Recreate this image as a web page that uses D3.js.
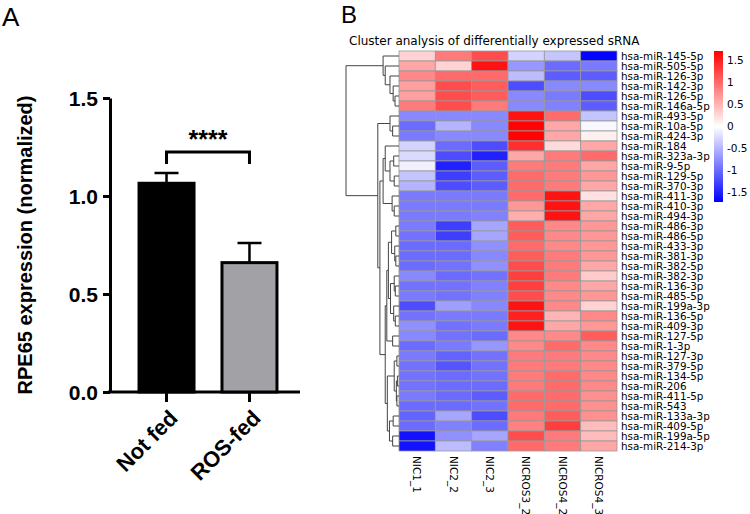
<!DOCTYPE html>
<html>
<head>
  <meta charset="UTF-8">
  <title>RPE65 and sRNA cluster</title>
<style>
  body { margin: 0; background: #fff; }
  svg { display: block; }
</style>
</head>
<body>
<svg></svg>
<script src="https://d3js.org/d3.v7.min.js"></script>
<script>
    let width = 750, height = 514;

    // Panel A data
    const barGroups = ["Not fed", "ROS-fed"];
    const barMeans = [1.065, 0.66];
    const barErrors = [0.052, 0.10];
    const barFills = ["#000000", "#a1a1a6"];
    const yTicks = [0, 0.5, 1.0, 1.5];

    // Panel B data
    const samples = ["NIC1_1", "NIC2_2", "NIC2_3", "NICROS3_2", "NICROS4_2", "NICROS4_3"];
    const mirnas = ["hsa-miR-145-5p", "hsa-miR-505-5p", "hsa-miR-126-3p", "hsa-miR-142-3p", "hsa-miR-126-5p",
        "hsa-miR-146a-5p", "hsa-miR-493-5p", "hsa-miR-10a-5p", "hsa-miR-424-3p", "hsa-miR-184",
        "hsa-miR-323a-3p", "hsa-miR-9-5p", "hsa-miR-129-5p", "hsa-miR-370-3p", "hsa-miR-411-3p",
        "hsa-miR-410-3p", "hsa-miR-494-3p", "hsa-miR-486-3p", "hsa-miR-486-5p", "hsa-miR-433-3p",
        "hsa-miR-381-3p", "hsa-miR-382-5p", "hsa-miR-382-3p", "hsa-miR-136-3p", "hsa-miR-485-5p",
        "hsa-miR-199a-3p", "hsa-miR-136-5p", "hsa-miR-409-3p", "hsa-miR-127-5p", "hsa-miR-1-3p",
        "hsa-miR-127-3p", "hsa-miR-379-5p", "hsa-miR-134-5p", "hsa-miR-206", "hsa-miR-411-5p",
        "hsa-miR-543", "hsa-miR-133a-3p", "hsa-miR-409-5p", "hsa-miR-199a-5p", "hsa-miR-214-3p"];
    const zscores = [
        [0.3, 0.9, 1.2, -0.3, -0.4, -1.7],
        [0.6, 0.3, 1.6, -0.7, -1.0, -0.9],
        [0.8, 1.0, 1.0, -0.45, -1.1, -1.1],
        [0.65, 1.2, 1.1, -1.2, -0.8, -0.8],
        [0.65, 1.2, 1.1, -0.8, -0.9, -1.2],
        [0.9, 1.2, 0.9, -0.8, -0.85, -1.1],
        [-0.8, -0.8, -0.8, 1.6, 1.0, -0.4],
        [-1.0, -0.5, -0.8, 1.7, 0.6, -0.05],
        [-0.9, -0.8, -0.8, 1.7, 0.6, 0.1],
        [-0.3, -1.0, -1.2, 1.4, 0.25, 0.6],
        [-0.25, -1.2, -1.5, 0.6, 0.9, 1.0],
        [-0.1, -1.5, -1.1, 0.9, 0.9, 0.6],
        [-0.4, -1.3, -1.1, 1.0, 0.9, 0.7],
        [-0.5, -1.2, -1.1, 1.0, 0.9, 0.6],
        [-0.9, -0.9, -0.9, 1.0, 1.6, 0.2],
        [-0.9, -0.9, -0.9, 0.7, 1.6, 0.6],
        [-0.9, -0.9, -0.85, 0.55, 1.6, 0.6],
        [-0.9, -1.3, -0.6, 1.1, 0.8, 0.7],
        [-0.95, -1.3, -0.6, 1.1, 0.8, 0.7],
        [-1.0, -1.0, -0.75, 1.0, 0.8, 0.7],
        [-1.0, -1.0, -0.8, 1.1, 0.9, 0.7],
        [-1.0, -0.95, -0.75, 1.2, 0.9, 0.6],
        [-0.8, -1.0, -0.95, 1.3, 0.9, 0.35],
        [-0.95, -0.95, -0.85, 1.3, 0.8, 0.6],
        [-0.9, -0.95, -0.85, 1.2, 0.8, 0.7],
        [-1.2, -0.65, -0.8, 1.6, 0.8, 0.3],
        [-0.95, -0.9, -0.9, 1.5, 0.5, 0.8],
        [-0.75, -0.95, -0.9, 1.6, 0.6, 0.7],
        [-0.8, -0.95, -1.0, 0.8, 0.8, 1.1],
        [-1.0, -0.9, -0.7, 0.8, 1.0, 0.8],
        [-0.9, -1.05, -0.95, 0.9, 0.9, 0.8],
        [-0.95, -1.15, -0.95, 0.9, 0.9, 0.8],
        [-0.95, -1.0, -0.95, 0.9, 1.0, 0.8],
        [-0.95, -1.0, -1.0, 0.9, 1.0, 0.8],
        [-0.9, -1.0, -1.1, 1.0, 1.0, 0.75],
        [-1.0, -1.0, -0.95, 1.0, 1.0, 0.75],
        [-1.05, -0.6, -1.2, 0.9, 1.1, 0.75],
        [-1.0, -0.85, -1.0, 0.85, 1.3, 0.45],
        [-1.6, -0.75, -0.6, 1.2, 0.9, 0.45],
        [-1.6, -0.45, -0.85, 1.0, 0.9, 0.6]
    ];
    const colorTicks = [1.5, 1, 0.5, 0, -0.5, -1, -1.5];

    // row dendrogram: [height, left, right], leaves are row indices
    const treeTop = [3.0, 0, [2.6, 1, [1.7, 2, [1.1, 3, [0.75, 4, 5]]]]];
    const treeA = [1.7, 6, [1.2, 7, 8]];
    const treeB = [2.6, 9, [1.7, [1.0, 10, 11], [0.9, 12, 13]]];
    const treeC = [1.3, 14, [0.9, 15, 16]];
    const treeD = [2.3, [2.0, [1.4, [0.6, 17, 18], [0.8, 19, [0.6, 20, 21]]],
        [1.6, [0.9, 22, [0.7, 23, 24]], [1.0, 25, [0.7, 26, 27]]]], [1.2, 28, 29]];
    const treeE = [0.9, [0.4, 30, 31], [0.5, [0.3, 32, 33], [0.4, 34, 35]]];
    const treeF = [1.8, [1.1, 36, 37], [1.2, 38, 39]];
    const rowTree = [10, treeTop, [4.0, treeA, [3.6, [3.0, treeB, treeC], [2.6, treeD, [2.2, treeE, treeF]]]]];

    let svg = d3.select("svg").attr("width", width).attr("height", height);

    // ---------- Panel A ----------
    let fontA = "'Liberation Sans', Arial, sans-serif";
    svg.append("text").attr("x", 2).attr("y", 26)
        .style("font-family", fontA).style("font-size", "26px").text("A");

    let y = d3.scaleLinear().domain([0, 1.5]).range([392, 98]);
    let x = d3.scaleBand().domain(barGroups).range([110, 306]).paddingInner(0.337).paddingOuter(0.35);

    let yAxis = svg.append("g").attr("transform", "translate(110,0)")
        .call(d3.axisLeft(y).tickValues(yTicks).tickFormat(d3.format(".1f")).tickSize(7).tickSizeOuter(0));
    yAxis.select(".domain").attr("stroke-width", 3);
    yAxis.selectAll(".tick line").attr("stroke-width", 3);
    yAxis.selectAll("text").attr("x", -12).attr("dy", "0.36em")
        .style("font-family", fontA).style("font-size", "21px").style("font-weight", "bold").attr("fill", "#000");

    let xAxis = svg.append("g").attr("transform", "translate(0,392)")
        .call(d3.axisBottom(x).tickSize(10).tickSizeOuter(0));
    xAxis.select(".domain").attr("stroke-width", 3).attr("d", "M108,0H300");
    xAxis.selectAll(".tick line").attr("stroke-width", 3);
    xAxis.selectAll("text")
        .attr("text-anchor", "end")
        .attr("transform", "translate(7,22) rotate(-45)")
        .attr("x", 0).attr("y", 0).attr("dy", "0.35em")
        .style("font-family", fontA).style("font-size", "22px").style("font-weight", "bold").attr("fill", "#000");

    let bars = svg.append("g");
    bars.selectAll("rect").data(barGroups).enter().append("rect")
        .attr("x", d => x(d))
        .attr("y", (d, i) => y(barMeans[i]))
        .attr("width", x.bandwidth())
        .attr("height", (d, i) => y(0) - y(barMeans[i]))
        .attr("fill", (d, i) => barFills[i])
        .attr("stroke", "#000").attr("stroke-width", 3);

    // error bars (upper only)
    bars.selectAll("path.err").data(barGroups).enter().append("path")
        .attr("class", "err")
        .attr("d", (d, i) => {
            let cx = x(d) + x.bandwidth() / 2, top = y(barMeans[i] + barErrors[i]);
            return "M" + cx + "," + y(barMeans[i]) + "V" + top + "M" + (cx - 12) + "," + top + "H" + (cx + 12);
        })
        .attr("fill", "none").attr("stroke", "#000").attr("stroke-width", 2.5);

    // significance bracket
    let c1 = x(barGroups[0]) + x.bandwidth() / 2, c2 = x(barGroups[1]) + x.bandwidth() / 2;
    svg.append("path")
        .attr("d", "M" + c1 + ",164V152H" + c2 + "V164")
        .attr("fill", "none").attr("stroke", "#000").attr("stroke-width", 3);
    svg.append("text").attr("x", (c1 + c2) / 2).attr("y", 148)
        .attr("text-anchor", "middle")
        .style("font-family", fontA).style("font-size", "25px").style("font-weight", "bold")
        .text("****");

    svg.append("text")
        .attr("transform", "translate(32,245) rotate(-90)")
        .attr("text-anchor", "middle")
        .style("font-family", fontA).style("font-size", "20px").style("font-weight", "bold")
        .text("RPE65 expression (normalized)");

    // ---------- Panel B ----------
    let fontB = "'DejaVu Sans', sans-serif";
    svg.append("text").attr("x", 341).attr("y", 23)
        .style("font-family", fontA).style("font-size", "24px").text("B");
    svg.append("text").attr("x", 349).attr("y", 45)
        .style("font-family", fontB).style("font-size", "12px")
        .text("Cluster analysis of differentially expressed sRNA");

    let hx = d3.scaleBand().domain(samples).range([399, 617]);
    let hy = d3.scaleBand().domain(d3.range(mirnas.length)).range([51, 451]);
    let color = d3.scaleLinear().domain([-1.72, 0, 1.72]).range(["#0000ff", "#ffffff", "#ff0000"]).clamp(true);

    let cells = [];
    zscores.forEach((row, r) => row.forEach((v, c) => cells.push({ r: r, c: c, v: v })));

    svg.append("g").selectAll("rect").data(cells).enter().append("rect")
        .attr("x", d => hx(samples[d.c]))
        .attr("y", d => hy(d.r))
        .attr("width", hx.bandwidth())
        .attr("height", hy.bandwidth())
        .attr("fill", d => color(d.v))
        .attr("stroke", "#9a9a9a").attr("stroke-width", 0.8);

    svg.append("g").selectAll("text").data(mirnas).enter().append("text")
        .attr("x", 621)
        .attr("y", (d, i) => hy(i) + hy.bandwidth() / 2)
        .attr("dy", "0.36em")
        .style("font-family", fontB).style("font-size", "10.4px")
        .text(d => d);

    svg.append("g").selectAll("text").data(samples).enter().append("text")
        .attr("transform", d => "translate(" + (hx(d) + hx.bandwidth() / 2) + ",456) rotate(90)")
        .attr("dy", "0.36em")
        .style("font-family", fontB).style("font-size", "10.5px")
        .text(d => d);

    // dendrogram
    let dx = d3.scaleLinear().domain([0, 10]).range([399, 346]);
    let dendro = svg.append("g").attr("fill", "none").attr("stroke", "#444").attr("stroke-width", 1);
    function drawNode(node) {
        if (typeof node === "number") return { y: hy(node) + hy.bandwidth() / 2, h: 0 };
        let a = drawNode(node[1]), b = drawNode(node[2]);
        let xn = dx(node[0]);
        dendro.append("path")
            .attr("d", "M" + dx(a.h) + "," + a.y + "H" + xn + "V" + b.y + "H" + dx(b.h));
        return { y: (a.y + b.y) / 2, h: node[0] };
    }
    drawNode(rowTree);

    // colour bar
    let cy = d3.scaleLinear().domain([-1.72, 1.72]).range([202, 51]);
    let grad = svg.append("defs").append("linearGradient").attr("id", "cbar")
        .attr("x1", 0).attr("x2", 0).attr("y1", 1).attr("y2", 0);
    grad.selectAll("stop").data([-1.72, 0, 1.72]).enter().append("stop")
        .attr("offset", d => (d + 1.72) / 3.44)
        .attr("stop-color", d => color(d));
    svg.append("rect").attr("x", 714).attr("y", 51).attr("width", 9).attr("height", 151)
        .attr("fill", "url(#cbar)");
    svg.append("g").selectAll("text").data(colorTicks).enter().append("text")
        .attr("x", 727)
        .attr("y", d => cy(d))
        .attr("dy", "0.36em")
        .style("font-family", fontB).style("font-size", "10.5px")
        .text(d => d);
</script>
</body>
</html>
